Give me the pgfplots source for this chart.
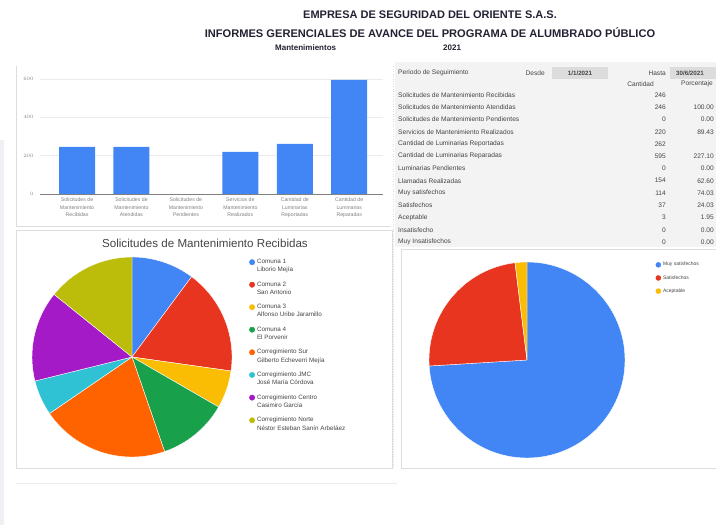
\documentclass[border=0pt]{standalone}
\usepackage{fontspec}
\setmainfont{Liberation Sans}
\usepackage{pgfplots}
\pgfplotsset{compat=1.18}

\definecolor{gblue}{HTML}{4285F4}
\definecolor{gred}{HTML}{E8351F}
\definecolor{gyellow}{HTML}{FBBC04}
\definecolor{ggreen}{HTML}{19A04B}
\definecolor{gorange}{HTML}{FF6300}
\definecolor{gcyan}{HTML}{2EC2D4}
\definecolor{gpurple}{HTML}{A31AC6}
\definecolor{golive}{HTML}{BCBC0A}
\definecolor{txt}{HTML}{444444}
\definecolor{ttl}{HTML}{222233}
\definecolor{panel}{HTML}{DDDDDD}
\definecolor{strip}{HTML}{EEF0F3}
\definecolor{tablebg}{HTML}{F3F3F3}
\definecolor{datebg}{HTML}{DCDCDC}
\definecolor{gridc}{HTML}{EBEBEB}

% pie slices inside an axis running -1..1; #1 total, #2 radius in pt, #3 value/colour list
\newcommand\drawpie[3]{%
  \gdef\cum{0}%
  \foreach \v/\c in {#3}{%
    \pgfmathsetmacro\sa{90-(\cum/#1)*360}%
    \pgfmathsetmacro\ea{90-((\cum+\v)/#1)*360}%
    \pgfmathsetmacro\sx{cos(\sa)}%
    \pgfmathsetmacro\sy{sin(\sa)}%
    \pgfmathsetmacro\nc{\cum+\v}\global\let\cum\nc
    \edef\slice{\noexpand\fill[fill=\c,draw=white,line width=0.4pt]
      (axis cs:0,0) -- (axis cs:\sx,\sy) arc[start angle=\sa,end angle=\ea,radius=#2pt] -- cycle;}%
    \slice
  }%
}

\pgfplotsset{
  bulletA/.style={legend image code/.code={\fill[#1] (2.7pt,4.1pt) circle (2.7pt);}},
  bulletB/.style={legend image code/.code={\fill[#1] (2.5pt,0pt) circle (2.5pt);}},
}

\begin{document}
\begin{tikzpicture}
\useasboundingbox (0,0) rectangle (716pt,-525pt);

\begin{scope}[x=1pt,y=-1pt]
  % frames
  \fill[strip] (0,140) rectangle (4,525);
  \draw[panel,line width=0.6pt] (16,66) -- (16,226) -- (390,226);
  \draw[panel,line width=0.6pt] (16,230) rectangle (392,468);
  \draw[panel!60,line width=0.6pt] (16,483) -- (397,483);
  \fill[tablebg] (395,62) rectangle (716,247);
  \draw[panel,dotted,line width=0.5pt] (393,66) -- (393,468);
  \draw[panel,line width=0.6pt] (401,249) rectangle (720,468);

  % titles
  \node[font=\bfseries\fontsize{11}{12}\selectfont,text=ttl] at (430,15) {EMPRESA DE SEGURIDAD DEL ORIENTE S.A.S.};
  \node[font=\bfseries\fontsize{11.1}{12}\selectfont,text=ttl] at (430,33) {INFORMES GERENCIALES DE AVANCE DEL PROGRAMA DE ALUMBRADO PÚBLICO};
  \node[font=\bfseries\fontsize{8}{9}\selectfont,text=ttl,anchor=west,inner sep=0] at (275,48) {Mantenimientos};
  \node[font=\bfseries\fontsize{8}{9}\selectfont,text=ttl,anchor=west,inner sep=0] at (443,48) {2021};

  % summary table
  \begin{scope}[every node/.style={font=\fontsize{6.6}{7.5}\selectfont,text=txt,inner sep=0}]
    \node[anchor=west] at (398,73) {Periodo de Seguimiento};
    \node[anchor=east] at (545,73) {Desde};
    \fill[datebg] (552,67) rectangle (608,79);
    \node[font=\bfseries\fontsize{6.2}{7}\selectfont] at (580,73) {1/1/2021};
    \node[anchor=east] at (666,73) {Hasta};
    \fill[datebg] (670,67) rectangle (716,79);
    \node[font=\bfseries\fontsize{6.2}{7}\selectfont,anchor=west] at (676,73) {30/6/2021};
    \node[anchor=east] at (654,84) {Cantidad};
    \node[anchor=west] at (681,84) {Porcentaje};
    \foreach [count=\i from 0] \lab/\q/\p in {
      Solicitudes de Mantenimiento Recibidas/246/{},
      Solicitudes de Mantenimiento Atendidas/246/100.00,
      Solicitudes de Mantenimiento Pendientes/0/0.00,
      Servicios de Mantenimiento Realizados/220/89.43,
      Cantidad de Luminarias Reportadas/262/{},
      Cantidad de Luminarias Reparadas/595/227.10,
      Luminarias Pendientes/0/0.00,
      Llamadas Realizadas/154/62.60,
      Muy satisfechos/114/74.03,
      Satisfechos/37/24.03,
      Aceptable/3/1.95,
      Insatisfecho/0/0.00,
      Muy Insatisfechos/0/0.00}{
      \node[anchor=west] at (398,95+12.25*\i) {\lab};
      \node[anchor=east] at (666,95+12.25*\i) {\q};
      \node[anchor=east] at (714,95+12.25*\i) {\p};
    }
  \end{scope}

  \node[font=\fontsize{11.6}{13}\selectfont,text=txt] at (205,243) {Solicitudes de Mantenimiento Recibidas};
\end{scope}

% bar chart
\begin{axis}[
    at={(40pt,-194pt)}, anchor=south west,
    scale only axis, width=343pt, height=115pt,
    ymin=0, ymax=600, ytick={0,200,400,600},
    xmin=-0.68, xmax=5.62, xtick={0,...,5},
    xticklabels={{Solicitudes de\\Mantenimiento\\Recibidas},
                 {Solicitudes de\\Mantenimiento\\Atendidas},
                 {Solicitudes de\\Mantenimiento\\Pendientes},
                 {Servicios de\\Mantenimiento\\Realizados},
                 {Cantidad de\\Luminarias\\Reportadas},
                 {Cantidad de\\Luminarias\\Reparadas}},
    xticklabel style={align=center,font=\fontsize{5.2}{7.8}\selectfont,text=gray},
    yticklabel style={font=\fontsize{5.2}{6}\selectfont,text=gray,xshift=-3pt},
    axis line style={draw=none}, major tick length=0pt,
    ymajorgrids, grid style={gridc, line width=0.5pt},
    ybar, bar width=36pt,
]
\addplot[fill=gblue, draw=none] coordinates {(0,246) (1,246) (2,0) (3,220) (4,262) (5,595)};
\draw[gray,line width=0.6pt] (axis cs:-0.68,0) -- (axis cs:5.62,0);
\end{axis}

% pie: solicitudes por comuna
\begin{axis}[
    at={(132pt,-357pt)}, anchor=center,
    scale only axis, width=200pt, height=200pt,
    xmin=-1, xmax=1, ymin=-1, ymax=1,
    hide axis, clip=false,
    legend cell align=left,
    legend style={at={(1.07,1.01)}, anchor=north west, draw=none, fill=none,
      font=\fontsize{6.3}{8.3}\selectfont, text=txt, row sep=4.3pt,
      cells={align=left}},
]
\drawpie{246}{100}{25/gblue,42/gred,15/gyellow,28/ggreen,51/gorange,14/gcyan,36/gpurple,35/golive}
\addlegendimage{bulletA=gblue}
\addlegendentry{Comuna 1\\Liborio Mejía}
\addlegendimage{bulletA=gred}
\addlegendentry{Comuna 2\\San Antonio}
\addlegendimage{bulletA=gyellow}
\addlegendentry{Comuna 3\\Alfonso Uribe Jaramillo}
\addlegendimage{bulletA=ggreen}
\addlegendentry{Comuna 4\\El Porvenir}
\addlegendimage{bulletA=gorange}
\addlegendentry{Corregimiento Sur\\Gilberto Echeverri Mejía}
\addlegendimage{bulletA=gcyan}
\addlegendentry{Corregimiento JMC\\José María Córdova}
\addlegendimage{bulletA=gpurple}
\addlegendentry{Corregimiento Centro\\Casimiro García}
\addlegendimage{bulletA=golive}
\addlegendentry{Corregimiento Norte\\Néstor Esteban Sanín Arbeláez}
\end{axis}

% pie: satisfaccion
\begin{axis}[
    at={(527pt,-360pt)}, anchor=center,
    scale only axis, width=196pt, height=196pt,
    xmin=-1, xmax=1, ymin=-1, ymax=1,
    hide axis, clip=false,
    legend cell align=left,
    legend style={at={(1.14,1.02)}, anchor=north west, draw=none, fill=none,
      font=\fontsize{5}{6}\selectfont, text=txt, row sep=4pt},
]
\drawpie{154}{98}{114/gblue,37/gred,3/gyellow}
\addlegendimage{bulletB=gblue}
\addlegendentry{Muy satisfechos}
\addlegendimage{bulletB=gred}
\addlegendentry{Satisfechos}
\addlegendimage{bulletB=gyellow}
\addlegendentry{Aceptable}
\end{axis}
\end{tikzpicture}
\end{document}
